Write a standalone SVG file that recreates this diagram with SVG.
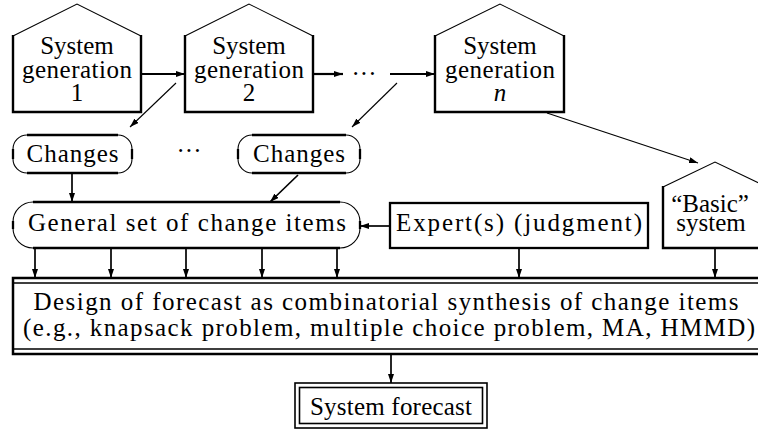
<svg xmlns="http://www.w3.org/2000/svg" width="758" height="430" viewBox="0 0 758 430">
<style>
text{font-family:"Liberation Serif","Tinos","Noto Serif","DejaVu Serif","Nimbus Roman","FreeSerif","Times New Roman",Times,serif;font-size:25px;text-anchor:middle;fill:#000}
.roof{fill:none;stroke:#000;stroke-width:1.1}
.wall{fill:none;stroke:#000;stroke-width:2.4;stroke-linejoin:miter}
.bg{fill:#fff;stroke:none}
.thin{fill:none;stroke:#000;stroke-width:1.1}
.thick{fill:none;stroke:#000;stroke-width:2.3}
.c{fill:none;stroke:#000;stroke-width:1.1;marker-end:url(#ah)}
.cb{fill:none;stroke:#000;stroke-width:2.2;marker-end:url(#ah)}
.cm{fill:none;stroke:#000;stroke-width:1.7;marker-end:url(#ah)}
</style>
<defs>
<marker id="ah" markerUnits="userSpaceOnUse" markerWidth="9" markerHeight="6" refX="9" refY="3" orient="auto">
<path d="M0,0 L9,3 L0,6 Z" fill="#000"/>
</marker>
</defs>
<rect width="758" height="430" fill="#fff"/>

<g id="gen1">
<path class="bg" d="M13,36 L77,4 L141,36 L141,112 L13,112 Z"/>
<path class="roof" d="M13,36 L77,4 L141,36"/>
<path class="wall" d="M13,35 L13,112 L141,112 L141,35"/>
<text x="77" y="54">System</text>
<text x="77" y="78" textLength="110" lengthAdjust="spacing">generation</text>
<text x="77" y="101">1</text>
</g>

<g id="gen2">
<path class="bg" d="M185,36 L249,4 L313,36 L313,112 L185,112 Z"/>
<path class="roof" d="M185,36 L249,4 L313,36"/>
<path class="wall" d="M185,35 L185,112 L313,112 L313,35"/>
<text x="249" y="54">System</text>
<text x="249" y="78" textLength="110" lengthAdjust="spacing">generation</text>
<text x="249" y="101">2</text>
</g>

<g id="dots1">
<text x="364" y="82">···</text>
</g>

<g id="genn">
<path class="bg" d="M435,36 L500,4 L564,36 L564,112 L435,112 Z"/>
<path class="roof" d="M435,36 L500,4 L564,36"/>
<path class="wall" d="M435,35 L435,112 L564,112 L564,35"/>
<text x="500" y="54">System</text>
<text x="500" y="78" textLength="110" lengthAdjust="spacing">generation</text>
<text x="500" y="101" font-style="italic">n</text>
</g>

<g id="changes1">
<rect class="thin" x="13" y="135" width="119" height="38" rx="14"/>
<path class="thick" d="M27,135 H118 M27,173 H118 M13,149 V159 M132,149 V159"/>
<text x="72.5" y="162" textLength="92" lengthAdjust="spacing">Changes</text>
</g>

<g id="dots2">
<text x="189" y="159">···</text>
</g>

<g id="changes2">
<rect class="thin" x="238" y="135" width="122" height="38" rx="14"/>
<path class="thick" d="M252,135 H346 M252,173 H346 M238,149 V159 M360,149 V159"/>
<text x="299" y="162" textLength="92" lengthAdjust="spacing">Changes</text>
</g>

<g id="general">
<rect class="thin" x="13" y="202" width="347" height="46" rx="20"/>
<path class="thick" d="M33,202 H340 M33,248 H340 M13,221 V229 M360,221 V229"/>
<text x="187" y="231" textLength="318" lengthAdjust="spacing">General set of change items</text>
</g>

<g id="expert">
<rect x="390" y="203" width="258" height="45" fill="#fff" stroke="#000" stroke-width="2.3"/>
<text x="519" y="231" textLength="246" lengthAdjust="spacing">Expert(s) (judgment)</text>
</g>

<g id="basic">
<path class="bg" d="M663,187 L715,162 L767,187 L767,248 L663,248 Z"/>
<path class="roof" d="M663,187 L715,162 L767,187"/>
<path class="wall" d="M663,186 L663,248 L767,248 L767,186"/>
<text x="710" y="212">“Basic”</text>
<text x="711" y="231">system</text>
</g>

<g id="design">
<rect x="13" y="278" width="760" height="76" fill="#fff" stroke="#000" stroke-width="2.5"/>
<path d="M14,283 H773 M14,349 H773" stroke="#000" stroke-width="1.6" fill="none"/>
<text x="386" y="310" textLength="705" lengthAdjust="spacing">Design of forecast as combinatorial synthesis of change items</text>
<text x="389" y="336" textLength="732" lengthAdjust="spacing">(e.g., knapsack problem, multiple choice problem, MA, HMMD)</text>
</g>

<g id="forecast">
<rect x="295" y="383" width="192" height="45" fill="#fff" stroke="#000" stroke-width="1.6"/>
<rect x="299.5" y="387.5" width="183" height="36" fill="none" stroke="#000" stroke-width="1.6"/>
<text x="391" y="415" textLength="162" lengthAdjust="spacing">System forecast</text>
</g>

<g id="connectors">
<path class="cb" d="M141,74 H185"/>
<path class="cb" d="M313,74 H343"/>
<path class="cb" d="M390,74 H435"/>
<path class="c" d="M176,83 L130,127"/>
<path class="c" d="M397,83 L352,127"/>
<path class="c" d="M547,113 L698,163"/>
<path class="cm" d="M72,173 V202"/>
<path class="cm" d="M298,175 L270,202"/>
<path class="cm" d="M390,226 H360"/>
<path class="cm" d="M35,248 V278"/>
<path class="cm" d="M111,248 V278"/>
<path class="cm" d="M186,248 V278"/>
<path class="cm" d="M262,248 V278"/>
<path class="cm" d="M337,248 V278"/>
<path class="cm" d="M519,248 V278"/>
<path class="cm" d="M715,248 V278"/>
<path class="cm" d="M391,354 V383"/>
</g>
</svg>
